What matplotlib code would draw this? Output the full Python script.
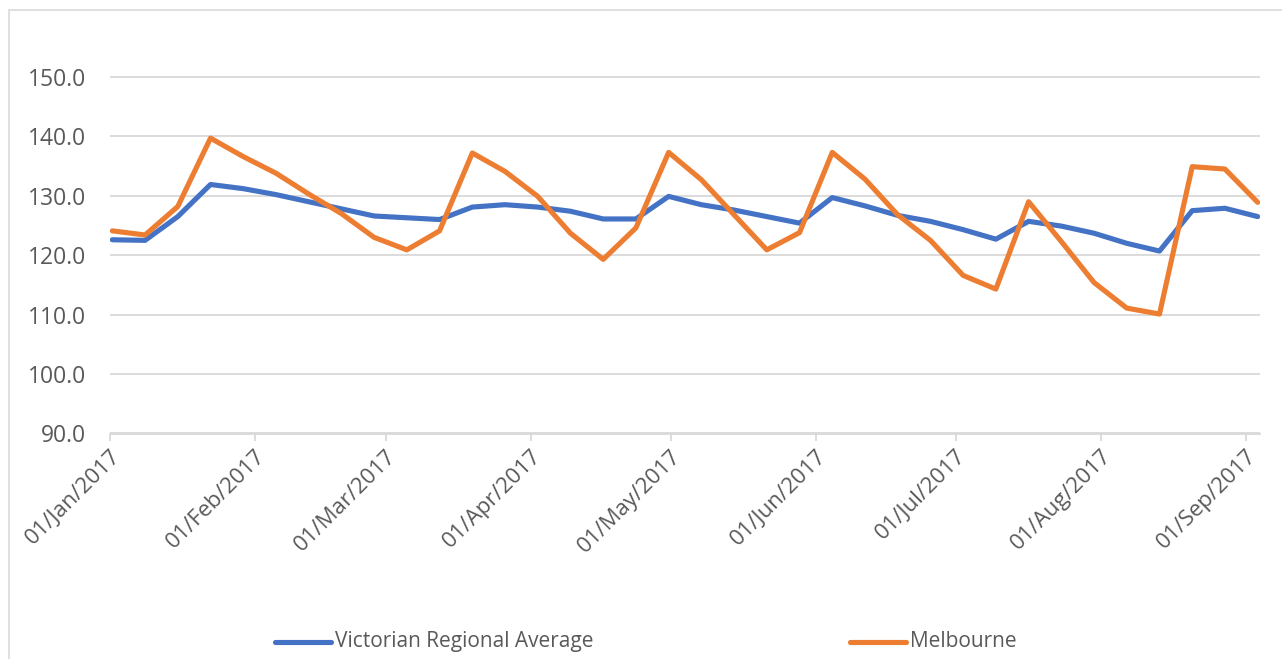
import matplotlib as mpl
mpl.use('Agg')

import matplotlib.pyplot as plt
import matplotlib.dates as mdates
import matplotlib.transforms as mtransforms
import numpy as np
import pandas as pd

plt.rcParams['font.family'] = ['Open Sans', 'DejaVu Sans']

# Weekly series, Jan 1 - Sep 3 2017
weeks = pd.date_range('2017-01-01', periods=36, freq='7D')

regional_avg = [122.6, 122.5, 126.5, 131.9, 131.2, 130.2, 129.0, 127.8, 126.6, 126.3,
                126.0, 128.1, 128.5, 128.1, 127.4, 126.1, 126.1, 129.9, 128.5, 127.6,
                126.5, 125.4, 129.7, 128.3, 126.7, 125.7, 124.3, 122.7, 125.7, 124.9,
                123.7, 122.0, 120.7, 127.5, 127.9, 126.5]

melbourne = [124.1, 123.4, 128.2, 139.7, 136.6, 133.8, 130.3, 127.0, 123.0, 120.9,
             124.1, 137.2, 134.1, 129.9, 123.7, 119.3, 124.6, 137.3, 132.7, 126.8,
             120.9, 123.8, 137.3, 132.8, 126.8, 122.5, 116.6, 114.3, 129.0, 122.3,
             115.4, 111.1, 110.1, 134.9, 134.5, 128.9]

series_names = ['Victorian Regional Average', 'Melbourne']
series_colors = ['#4472C4', '#ED7D31']

y_ticks = [90, 100, 110, 120, 130, 140, 150]
month_ticks = pd.date_range('2017-01-01', '2017-09-01', freq='MS')

W, H = 1282, 659
fig = plt.figure(figsize=(W / 100, H / 100), dpi=100)

# outer chart border (Excel style), cut by the image edge on right/bottom
border = plt.Rectangle((9 / W, -0.1), 2, 1 - 10 / H + 0.1, transform=fig.transFigure,
                       fill=False, edgecolor='#d9d9d9', linewidth=1.2)
fig.patches.append(border)

left, right = 110 / W, 1260 / W
bottom, top = 1 - 433.5 / H, 1 - 17.5 / H
ax = fig.add_axes([left, bottom, right - left, top - bottom])

# Excel date axis puts each point in the middle of its day
x_pts = weeks + pd.Timedelta(hours=12)
lines = []
for vals, name, col in zip([regional_avg, melbourne], series_names, series_colors):
    ln, = ax.plot(x_pts, vals, color=col, linewidth=3.7, label=name,
                  solid_capstyle='round', solid_joinstyle='round', zorder=3)
    lines.append(ln)

ax.set_ylim(90, 160)
ax.set_yticks(y_ticks)
ax.set_yticklabels(['%.1f' % v for v in y_ticks])
ax.set_xlim(pd.Timestamp('2017-01-01'), pd.Timestamp('2017-09-04'))
ax.set_xticks(month_ticks)
ax.set_xticklabels([d.strftime('%d/%b/%Y') for d in month_ticks])

ax.grid(axis='y', color='#d9d9d9', linewidth=1.3)
ax.set_axisbelow(True)
for s in ['top', 'right', 'left']:
    ax.spines[s].set_visible(False)
ax.spines['bottom'].set_color('#d9d9d9')
ax.spines['bottom'].set_linewidth(1.3)

ax.tick_params(axis='y', length=0, pad=17, labelsize=16.5, labelcolor='#595959')
ax.tick_params(axis='x', length=5, width=1.3, color='#d9d9d9', labelsize=16,
               labelcolor='#595959', pad=4)
shift = mtransforms.ScaledTranslation(5 / 72, -5 / 72, fig.dpi_scale_trans)
for lbl in ax.get_xticklabels():
    lbl.set_rotation(45)
    lbl.set_rotation_mode('anchor')
    lbl.set_ha('right')
    lbl.set_va('center')
    lbl.set_transform(lbl.get_transform() + shift)

# legend entries placed like the Excel bottom legend
for ln, x0 in zip(lines, [275, 850]):
    fig.add_artist(plt.Line2D([x0 / W, (x0 + 56) / W], [1 - 641.5 / H] * 2,
                              transform=fig.transFigure, color=ln.get_color(),
                              linewidth=3.7, solid_capstyle='round'))
    fig.text((x0 + 60) / W, 1 - 641.5 / H, ln.get_label(), fontsize=15,
             color='#595959', va='center', ha='left')

fig.savefig('out.png', dpi=100)
